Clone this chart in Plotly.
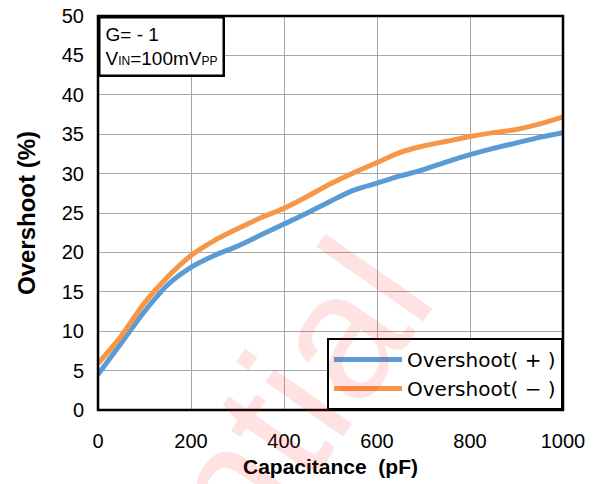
import plotly.graph_objects as go

capacitance = [0, 50, 100, 150, 200, 250, 300, 350, 400, 450, 500, 550, 600, 650, 700, 750, 800, 850, 900, 950, 1000]
overshoot_pos = [4.5, 8.5, 12.5, 15.9, 18.1, 19.6, 20.8, 22.2, 23.6, 25.0, 26.5, 27.9, 28.8, 29.7, 30.5, 31.5, 32.4, 33.2, 33.9, 34.6, 35.2]
overshoot_neg = [5.9, 9.4, 13.6, 16.9, 19.6, 21.5, 23.0, 24.4, 25.6, 27.1, 28.7, 30.1, 31.4, 32.7, 33.5, 34.1, 34.7, 35.2, 35.6, 36.3, 37.2]
series_names = ["Overshoot( + )", "Overshoot( \u2212 )"]
x_ticks = [0, 200, 400, 600, 800, 1000]
y_ticks = [0, 5, 10, 15, 20, 25, 30, 35, 40, 45, 50]

FONT = "Liberation Sans, Arial, sans-serif"

fig = go.Figure()
fig.add_trace(go.Scatter(x=capacitance, y=overshoot_pos, mode="lines", name=series_names[0],
                         line=dict(color="#5B9BD5", width=5, shape="spline", smoothing=0.8)))
fig.add_trace(go.Scatter(x=capacitance, y=overshoot_neg, mode="lines", name=series_names[1],
                         line=dict(color="#F79646", width=5, shape="spline", smoothing=0.8)))

fig.update_layout(
    width=589, height=476,
    margin=dict(l=90, r=34, t=8, b=74, autoexpand=False),
    paper_bgcolor="white", plot_bgcolor="white",
    font=dict(family=FONT, color="black"),
    showlegend=True,
    legend=dict(x=1, xanchor="right", y=0, yanchor="bottom",
                bgcolor="white", bordercolor="black", borderwidth=2,
                font=dict(size=20, color="black", family="DejaVu Sans"), tracegroupgap=0, itemwidth=68),
    xaxis=dict(range=[0, 1000], tickvals=x_ticks, showgrid=True, gridcolor="#A6A6A6", gridwidth=1,
               zeroline=False, showline=False, ticks="", tickfont=dict(size=20),
               ticklabelstandoff=17, automargin=False, ticklabeloverflow="allow",
               title=dict(text="<b>Capacitance\u00a0 (pF)</b>", font=dict(size=21), standoff=8)),
    yaxis=dict(range=[0, 50], tickvals=y_ticks, showgrid=True, gridcolor="#A6A6A6", gridwidth=1,
               zeroline=False, showline=False, ticks="", tickfont=dict(size=20),
               ticklabelstandoff=13, automargin=False, ticklabeloverflow="allow",
               title=dict(text="<b>Overshoot (%)</b>", font=dict(size=24), standoff=19)),
)

fig.add_shape(type="rect", xref="paper", yref="paper", x0=0, y0=0, x1=1, y1=1,
              line=dict(color="black", width=2.5), layer="above")

fig.add_annotation(xref="paper", yref="paper", x=0, y=1, xanchor="left", yanchor="top",
                   text="G= - 1<br>V<span style='font-size:12px'>IN</span>=100mV<span style='font-size:12px'>PP</span>",
                   showarrow=False, align="left", font=dict(size=19, color="black"),
                   bgcolor="white", bordercolor="black", borderwidth=2.5, borderpad=5)

fig.add_annotation(xref="paper", yref="paper", x=0.037, y=-0.615, xanchor="center", yanchor="middle",
                   text="Confidential", textangle=-55, showarrow=False,
                   font=dict(size=180, family="Liberation Sans, Arial", color="rgba(255,30,30,0.13)"))

fig.write_html("out.html")
